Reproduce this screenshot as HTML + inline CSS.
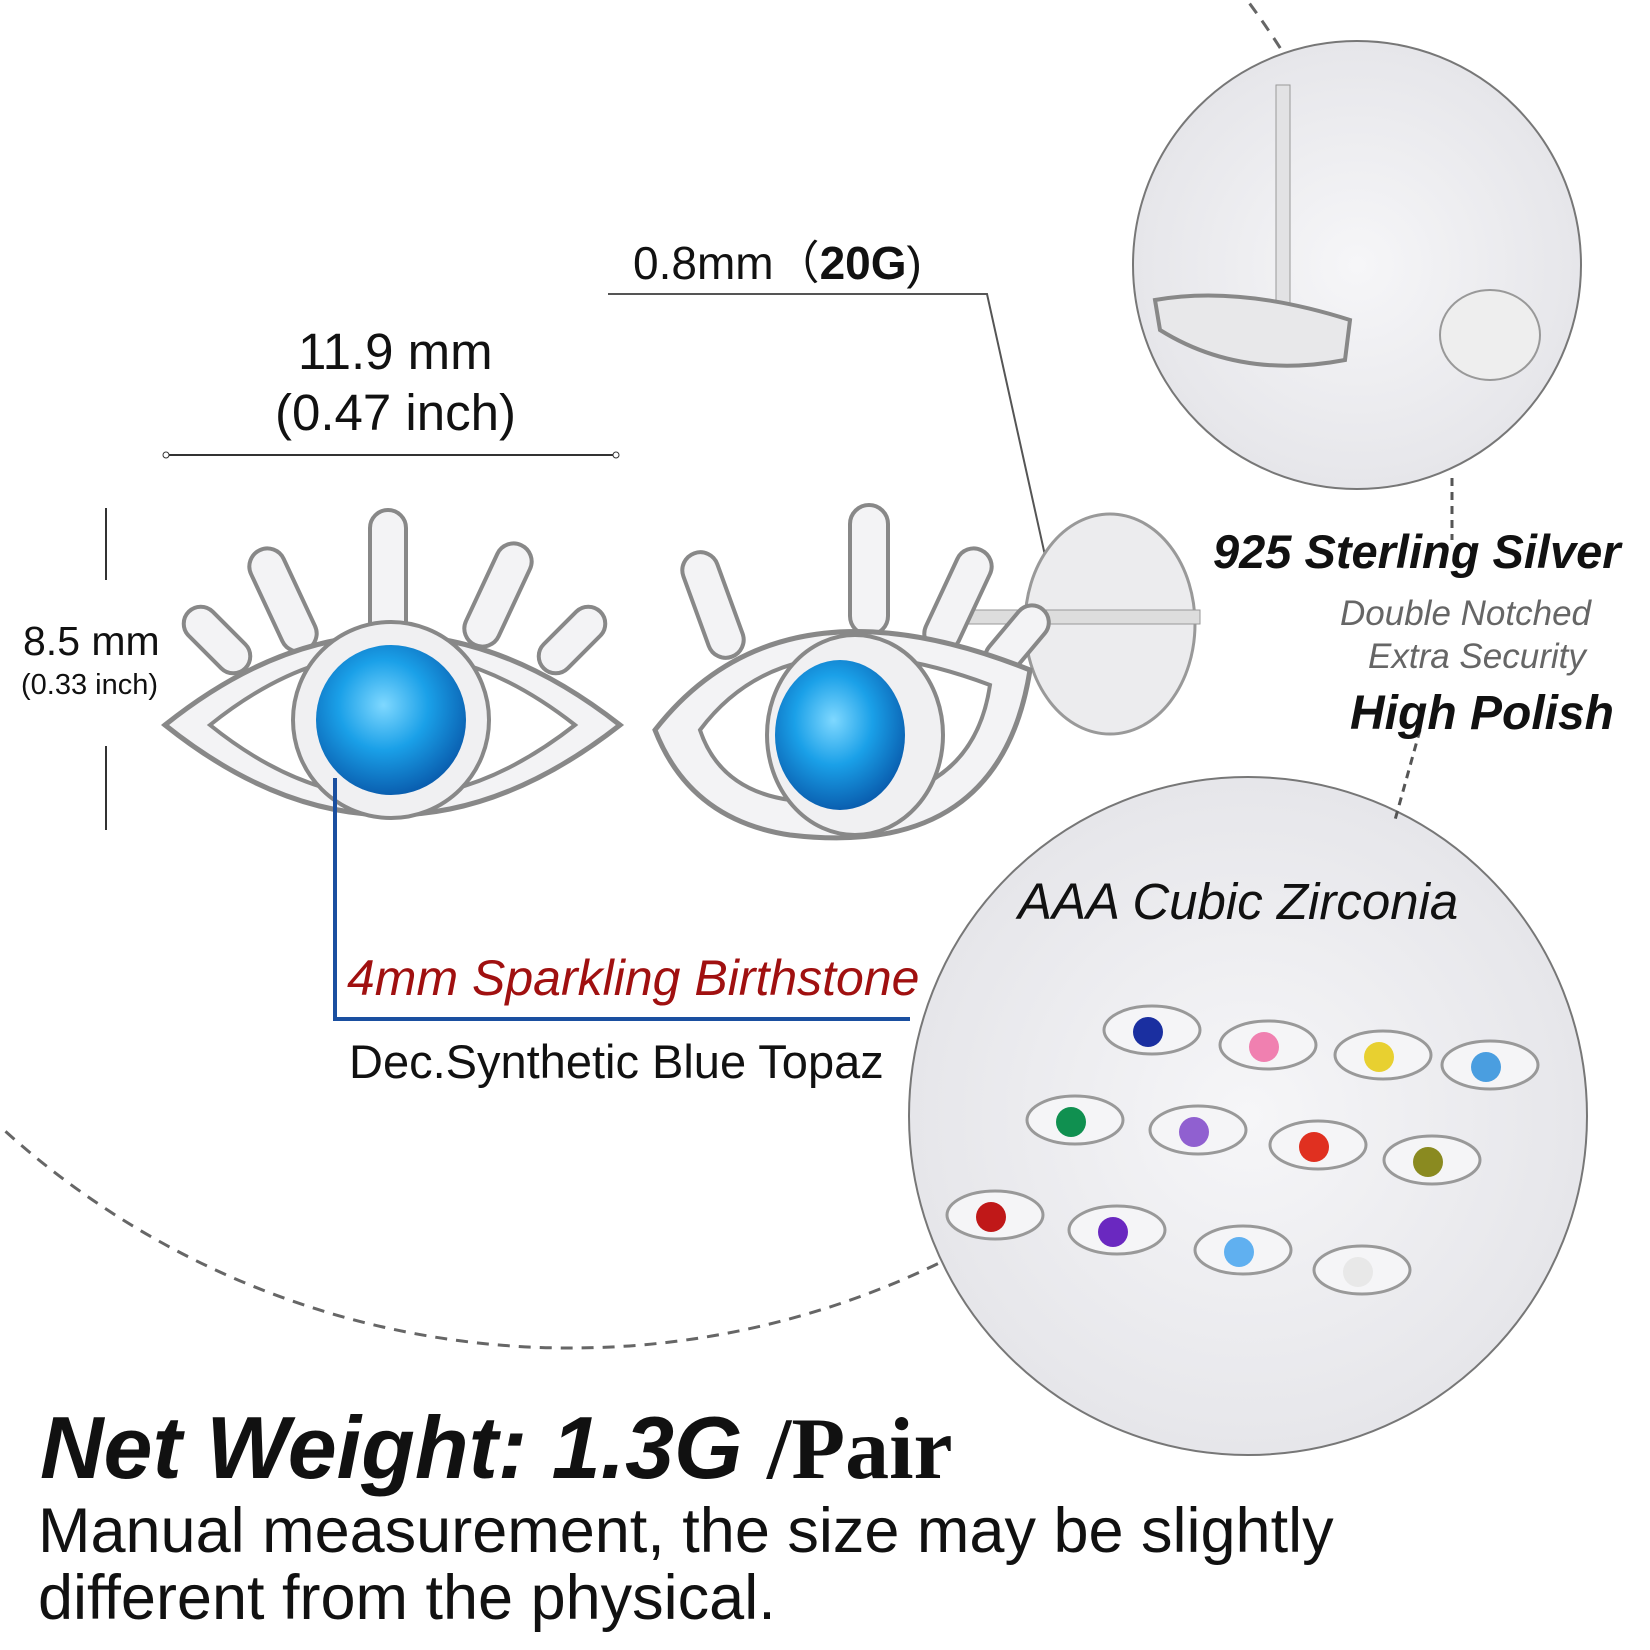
<!DOCTYPE html>
<html><head><meta charset="utf-8"><style>
html,body{margin:0;padding:0;background:#fff;width:1650px;height:1650px;overflow:hidden}
.t{position:absolute;white-space:nowrap;font-family:"Liberation Sans",sans-serif;color:#111;line-height:1}
</style></head><body>
<svg width="1650" height="1650" style="position:absolute;left:0;top:0">
<defs>
<radialGradient id="gem" cx="45%" cy="40%" r="60%"><stop offset="0" stop-color="#7fd8ff"/><stop offset="0.5" stop-color="#1aa0e8"/><stop offset="1" stop-color="#0a5fb0"/></radialGradient>
<radialGradient id="cir" cx="50%" cy="50%" r="50%"><stop offset="0" stop-color="#f6f6f8"/><stop offset="1" stop-color="#e6e6ea"/></radialGradient>
<clipPath id="arcclip"><rect x="0" y="0" width="1320" height="120"/><rect x="0" y="950" width="1650" height="700"/></clipPath>
</defs>
<!-- big dashed arc -->
<circle cx="570" cy="504" r="844" fill="none" stroke="#666" stroke-width="3" stroke-dasharray="12 9" clip-path="url(#arcclip)"/>
<!-- circles -->
<circle cx="1357" cy="265" r="224" fill="url(#cir)" stroke="#777" stroke-width="2"/>
<circle cx="1248" cy="1116" r="339" fill="url(#cir)" stroke="#777" stroke-width="2"/>
<line x1="1452" y1="478" x2="1452" y2="540" stroke="#555" stroke-width="3" stroke-dasharray="8 6"/>
<line x1="1420" y1="730" x2="1395" y2="820" stroke="#555" stroke-width="3" stroke-dasharray="8 6"/>
<!-- top circle content -->
<rect x="1276" y="85" width="14" height="230" fill="#e2e2e4" stroke="#999"/>
<path d="M1155 300 Q1240 285 1350 320 L1345 360 Q1240 380 1160 330 Z" fill="#e8e8ea" stroke="#888" stroke-width="4"/>
<ellipse cx="1490" cy="335" rx="50" ry="45" fill="#eee" stroke="#999" stroke-width="2"/>
<!-- dimension lines -->
<line x1="166" y1="455" x2="616" y2="455" stroke="#333" stroke-width="2"/>
<circle cx="166" cy="455" r="3" fill="#fff" stroke="#333"/><circle cx="616" cy="455" r="3" fill="#fff" stroke="#333"/>
<line x1="106" y1="508" x2="106" y2="580" stroke="#333" stroke-width="2"/>
<line x1="106" y1="746" x2="106" y2="830" stroke="#333" stroke-width="2"/>
<polyline points="608,294 987,294 1058,614" fill="none" stroke="#555" stroke-width="2"/>
<!-- earring back -->
<ellipse cx="1110" cy="624" rx="85" ry="110" fill="#ececee" stroke="#999" stroke-width="3"/>
<rect x="960" y="610" width="240" height="14" fill="#ddd" stroke="#999"/>
<!-- left eye -->
<g fill="#f3f3f5" stroke="#888" stroke-width="4">
<rect x="265" y="545" width="36" height="110" rx="18" transform="rotate(-25 283 600)"/>
<rect x="370" y="510" width="36" height="130" rx="18"/>
<rect x="480" y="540" width="36" height="110" rx="18" transform="rotate(25 498 595)"/>
<rect x="200" y="600" width="34" height="80" rx="17" transform="rotate(-45 217 640)"/>
<rect x="555" y="600" width="34" height="80" rx="17" transform="rotate(45 572 640)"/>
<path d="M165 725 Q390 545 620 725 Q390 905 165 725 Z" stroke-width="5"/>
<path d="M210 725 Q390 580 575 725 Q390 870 210 725 Z" fill="#fff"/>
</g>
<circle cx="391" cy="720" r="98" fill="#f0f0f2" stroke="#888" stroke-width="4"/>
<circle cx="391" cy="720" r="75" fill="url(#gem)"/>
<!-- right eye -->
<g fill="#f3f3f5" stroke="#888" stroke-width="4">
<rect x="695" y="550" width="36" height="110" rx="18" transform="rotate(-20 713 605)"/>
<rect x="850" y="505" width="38" height="130" rx="19"/>
<rect x="940" y="545" width="36" height="110" rx="18" transform="rotate(25 958 600)"/>
<rect x="1000" y="600" width="34" height="80" rx="17" transform="rotate(40 1017 640)"/>
<path d="M655 730 Q780 570 1030 670 Q1000 860 790 835 Q690 820 655 730 Z" stroke-width="5"/>
<path d="M700 730 Q790 610 990 685 Q970 820 790 800 Q720 790 700 730 Z" fill="#fff"/>
</g>
<ellipse cx="855" cy="735" rx="88" ry="100" fill="#f0f0f2" stroke="#888" stroke-width="4"/>
<ellipse cx="840" cy="735" rx="65" ry="75" fill="url(#gem)"/>
<!-- blue pointer -->
<polyline points="335,778 335,1019 910,1019" fill="none" stroke="#1a4fa0" stroke-width="4"/>
<!-- small eyes grid -->
<g stroke="#999" stroke-width="3" fill="#f5f5f7">
<ellipse cx="1152" cy="1030" rx="48" ry="24"/><ellipse cx="1268" cy="1045" rx="48" ry="24"/><ellipse cx="1383" cy="1055" rx="48" ry="24"/><ellipse cx="1490" cy="1065" rx="48" ry="24"/>
<ellipse cx="1075" cy="1120" rx="48" ry="24"/><ellipse cx="1198" cy="1130" rx="48" ry="24"/><ellipse cx="1318" cy="1145" rx="48" ry="24"/><ellipse cx="1432" cy="1160" rx="48" ry="24"/>
<ellipse cx="995" cy="1215" rx="48" ry="24"/><ellipse cx="1117" cy="1230" rx="48" ry="24"/><ellipse cx="1243" cy="1250" rx="48" ry="24"/><ellipse cx="1362" cy="1270" rx="48" ry="24"/>
</g>
<g>
<circle cx="1148" cy="1032" r="15" fill="#1a2fa0"/><circle cx="1264" cy="1047" r="15" fill="#f080b0"/><circle cx="1379" cy="1057" r="15" fill="#e8d030"/><circle cx="1486" cy="1067" r="15" fill="#4a9ee0"/>
<circle cx="1071" cy="1122" r="15" fill="#109050"/><circle cx="1194" cy="1132" r="15" fill="#9060d0"/><circle cx="1314" cy="1147" r="15" fill="#e03020"/><circle cx="1428" cy="1162" r="15" fill="#8a8a20"/>
<circle cx="991" cy="1217" r="15" fill="#c01818"/><circle cx="1113" cy="1232" r="15" fill="#6a28c0"/><circle cx="1239" cy="1252" r="15" fill="#60b0f0"/><circle cx="1358" cy="1272" r="15" fill="#e8e8e8"/>
</g>
</svg>
<div class="t" style="left:298px;top:326px;font-size:51px">11.9 mm</div>
<div class="t" style="left:275px;top:387px;font-size:51px">(0.47 inch)</div>
<div class="t" style="left:23px;top:621px;font-size:41px">8.5 mm</div>
<div class="t" style="left:21px;top:671px;font-size:29px">(0.33 inch)</div>
<div class="t" style="left:633px;top:240px;font-size:46px">0.8mm（<b>20G</b>)</div>
<div class="t" style="left:1213px;top:528px;font-size:47px;font-weight:bold;font-style:italic">925 Sterling Silver</div>
<div class="t" style="left:1340px;top:596px;font-size:35px;font-style:italic;color:#666">Double Notched</div>
<div class="t" style="left:1368px;top:639px;font-size:35px;font-style:italic;color:#666">Extra Security</div>
<div class="t" style="left:1350px;top:690px;font-size:48px;font-weight:bold;font-style:italic">High Polish</div>
<div class="t" style="left:1018px;top:876px;font-size:51px;font-style:italic">AAA Cubic Zirconia</div>
<div class="t" style="left:347px;top:953px;font-size:50px;font-style:italic;color:#a01010">4mm Sparkling Birthstone</div>
<div class="t" style="left:349px;top:1038px;font-size:47px">Dec.Synthetic Blue Topaz</div>
<div class="t" style="left:40px;top:1404px;font-size:88px;font-weight:bold;font-style:italic">Net Weight: 1.3G <span style="font-family:'Liberation Serif',serif;font-style:normal">/Pair</span></div>
<div class="t" style="left:38px;top:1500px;font-size:63px">Manual measurement, the size may be slightly</div>
<div class="t" style="left:38px;top:1567px;font-size:63px">different from the physical.</div>
</body></html>
